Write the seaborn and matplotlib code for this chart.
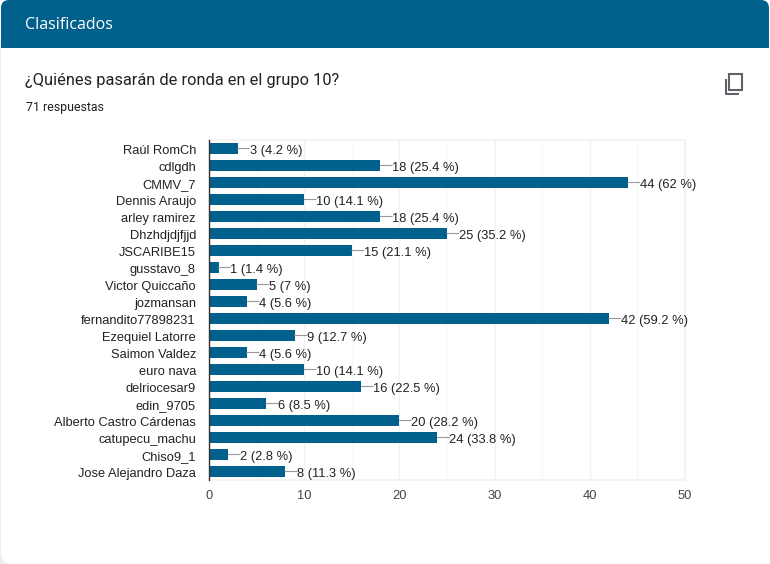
import matplotlib
matplotlib.use("Agg")
import matplotlib.pyplot as plt
from matplotlib.patches import FancyBboxPatch, Rectangle
from matplotlib.transforms import ScaledTranslation
import pandas as pd
import seaborn as sns

names = ["Raúl RomCh", "cdlgdh", "CMMV_7", "Dennis Araujo", "arley ramirez",
         "Dhzhdjdjfjjd", "JSCARIBE15", "gusstavo_8", "Victor Quiccaño", "jozmansan",
         "fernandito77898231", "Ezequiel Latorre", "Saimon Valdez", "euro nava",
         "delriocesar9", "edin_9705", "Alberto Castro Cárdenas", "catupecu_machu",
         "Chiso9_1", "Jose Alejandro Daza"]
votes = [3, 18, 44, 10, 18, 25, 15, 1, 5, 4, 42, 9, 4, 10, 16, 6, 20, 24, 2, 8]
pcts = ["4.2", "25.4", "62", "14.1", "25.4", "35.2", "21.1", "1.4", "7", "5.6",
        "59.2", "12.7", "5.6", "14.1", "22.5", "8.5", "28.2", "33.8", "2.8", "11.3"]
major_ticks = [0, 10, 20, 30, 40, 50]
minor_ticks = [5, 15, 25, 35, 45]

W, H = 770, 564
BLUE = "#01608c"
df = pd.DataFrame({"name": names, "votes": votes})

sns.set_theme(style="white")
plt.rcParams["font.family"] = ["Liberation Sans", "DejaVu Sans"]

fig = plt.figure(figsize=(W / 100, H / 100), dpi=100)
fig.patch.set_facecolor("white")

# page + card, in pixel coords
bg = fig.add_axes([0, 0, 1, 1])
bg.set_xlim(0, W)
bg.set_ylim(H, 0)
bg.axis("off")
bg.add_patch(Rectangle((0, 40), 12, H - 40, color="#e6eff5", lw=0))
bg.add_patch(FancyBboxPatch((1 + 10, 30), W + 20, H - 40, boxstyle="round,pad=10", fc="white", ec="none"))
bg.add_patch(FancyBboxPatch((1 + 8, 8), W - 18, 60, boxstyle="round,pad=8", fc=BLUE, ec="none"))
bg.add_patch(Rectangle((1, 48), W, 40, color="white", lw=0))

bg.text(25, 25, "Clasificados", color="white", fontsize=11.5, family="Open Sans", va="center")
bg.text(25, 80.5, "¿Quiénes pasarán de ronda en el grupo 10?", color="#202124", fontsize=11.8,
        family="Roboto", va="center")
bg.text(26, 107.5, "71 respuestas", color="#202124", fontsize=8.9, family="Roboto", va="center")

# copy icon
bg.add_patch(Rectangle((729, 74), 13, 16, fc="none", ec="#5f6368", lw=1.5))
bg.plot([725.5, 725.5, 739], [79, 94, 94], color="#5f6368", lw=1.5, solid_capstyle="butt")

ax = fig.add_axes([209 / W, 1 - 480 / H, (685 - 209) / W, 340 / H])
ax.patch.set_alpha(0)
sns.barplot(data=df, x="votes", y="name", color=BLUE, saturation=1, width=0.6, linewidth=0, ax=ax, zorder=3)
ax.set_xlim(0, 50)
ax.set_ylim(19.5, -0.5)
ax.set_xlabel("")
ax.set_ylabel("")
ax.set_xticks(major_ticks)
ax.set_xticks(minor_ticks, minor=True)
ax.grid(True, which="major", axis="x", color="#f2f2f2", lw=1)
ax.grid(True, which="minor", axis="x", color="#f8f8f8", lw=1)
ax.set_axisbelow(True)
ax.tick_params(axis="both", which="both", length=0)
ax.tick_params(axis="y", pad=9.4, labelsize=9.3, labelcolor="#222222")
ax.tick_params(axis="x", pad=7, labelsize=9.3, labelcolor="#444444")
for side in ["top", "right", "bottom"]:
    ax.spines[side].set_color("#f2f2f2")
ax.spines["left"].set_color("#333333")
ax.spines["left"].set_linewidth(1)
ax.spines["left"].set_zorder(5)

# labels sit a touch under the bar centre in the original
nudge = ScaledTranslation(0, -1 / 100, fig.dpi_scale_trans)
for lab in ax.get_yticklabels():
    lab.set_transform(lab.get_transform() + nudge)

for i, (v, p) in enumerate(zip(votes, pcts)):
    ax.annotate("", xy=(v, i), xytext=(8.6, 0), textcoords="offset points", annotation_clip=False,
                arrowprops=dict(arrowstyle="-", color="#999999", lw=0.8, shrinkA=0, shrinkB=0))
    ax.annotate(f"{v} ({p} %)", xy=(v, i), xytext=(8.6, -0.5), textcoords="offset points",
                va="center_baseline", ha="left", fontsize=9.3, color="#222222", zorder=6, annotation_clip=False)

plt.savefig("out.png", dpi=100)
